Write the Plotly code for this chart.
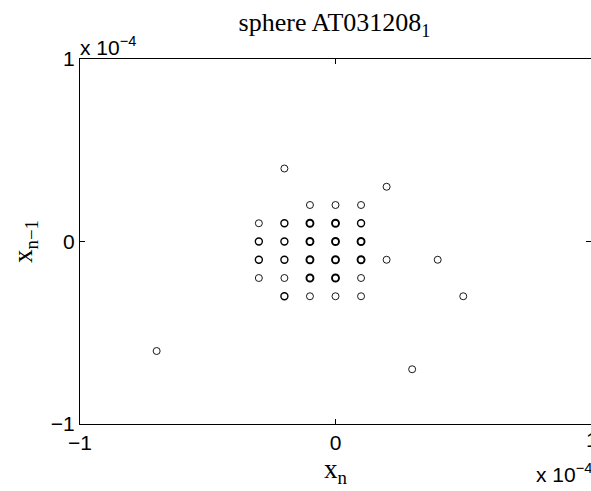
import plotly.graph_objects as go

# Return map samples (x_n, x_{n-1}) and how many times each pair occurs
x_n = [-2e-5, 2e-5,
       -1e-5, 0, 1e-5,
       -3e-5, -2e-5, -1e-5, 0, 1e-5,
       -3e-5, -2e-5, -1e-5, 0, 1e-5,
       -3e-5, -2e-5, -1e-5, 0, 1e-5, 2e-5, 4e-5,
       -3e-5, -2e-5, -1e-5, 0, 1e-5,
       -2e-5, -1e-5, 0, 1e-5, 5e-5,
       -7e-5, 3e-5]
x_prev = [4e-5, 3e-5,
          2e-5, 2e-5, 2e-5,
          1e-5, 1e-5, 1e-5, 1e-5, 1e-5,
          0, 0, 0, 0, 0,
          -1e-5, -1e-5, -1e-5, -1e-5, -1e-5, -1e-5, -1e-5,
          -2e-5, -2e-5, -2e-5, -2e-5, -2e-5,
          -3e-5, -3e-5, -3e-5, -3e-5, -3e-5,
          -6e-5, -7e-5]
counts = [1, 1,
          1, 1, 1,
          1, 2, 3, 3, 2,
          2, 2, 3, 3, 3,
          2, 2, 3, 3, 3, 1, 1,
          1, 1, 3, 3, 1,
          2, 1, 1, 1, 1,
          1, 1]

tick_vals = [-1e-4, 0, 1e-4]
tick_text = ["\u22121", "0", "1"]

sans = "Liberation Sans, Arial, sans-serif"
serif = "Liberation Serif, Times New Roman, serif"

fig = go.Figure(go.Scatter(
    x=x_n, y=x_prev, mode="markers",
    marker=dict(symbol="circle-open", size=7, color="black",
                line=dict(color="black", width=[0.9 + 0.5 * (c - 1) for c in counts])),
    showlegend=False,
))

axis_common = dict(
    range=[-1e-4, 1e-4], tickvals=tick_vals, ticktext=tick_text,
    ticks="inside", ticklen=5, tickwidth=1, tickcolor="black",
    showline=True, linecolor="black", linewidth=1, mirror="ticks",
    showgrid=False, zeroline=False,
    tickfont=dict(family=sans, size=21, color="black"),
)

fig.update_layout(
    width=591, height=491,
    margin=dict(l=80, r=0, t=59, b=67),
    paper_bgcolor="white", plot_bgcolor="white",
    title=dict(text="sphere AT031208<sub>1</sub>", x=0.566, xanchor="center",
               yref="container", y=0.955, yanchor="middle",
               font=dict(family=serif, size=26, color="black")),
    xaxis=dict(axis_common, title=dict(text="x<sub>n</sub>", standoff=0,
               font=dict(family=serif, size=27, color="black"))),
    yaxis=dict(axis_common,
               title=dict(text="x<sub>n\u22121</sub>", standoff=10,
               font=dict(family=serif, size=27, color="black"))),
    annotations=[
        dict(text="x 10<sup>\u22124</sup>", xref="paper", yref="paper",
             x=0, y=1, xanchor="left", yanchor="bottom", showarrow=False,
             xshift=-2, yshift=-2,
             font=dict(family=sans, size=21, color="black")),
        dict(text="x 10<sup>\u22124</sup>", xref="paper", yref="paper",
             x=1, y=-0.175, xanchor="right", yanchor="bottom", showarrow=False,
             xshift=3, font=dict(family=sans, size=21, color="black")),
        # right-hand "1" tick label, partly beyond the figure edge
        dict(text="1", xref="paper", yref="paper", x=1, y=0,
             xanchor="left", yanchor="top", xshift=-7, yshift=-2,
             showarrow=False, font=dict(family=sans, size=21, color="black")),
    ],
)

fig.write_html("out.html")
